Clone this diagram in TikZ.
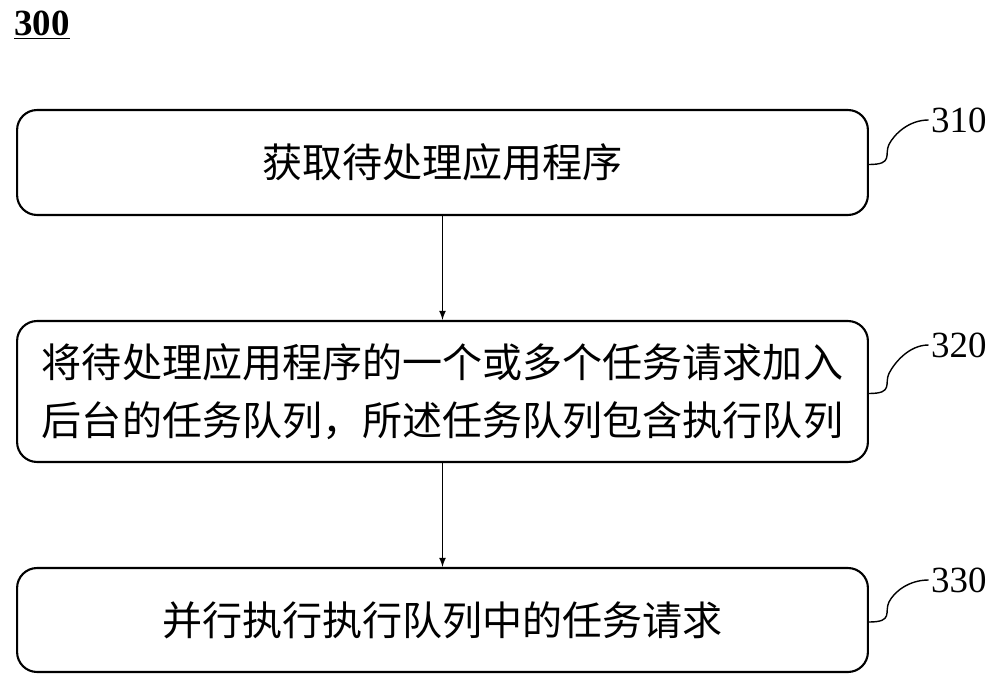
\documentclass[tikz,border=0pt]{standalone}
\usepackage{fontspec}
\setmainfont{Liberation Serif}
\newfontfamily\cjk{Noto Sans CJK SC}
\begin{document}
\begin{tikzpicture}[x=0.02cm,y=-0.02cm,
  stepbox/.style={draw,line width=1.2pt,rounded corners=0.4cm,minimum width=17.02cm,align=center,font=\cjk\fontsize{22.8}{33}\selectfont},
  lbl/.style={font=\fontsize{21}{24}\selectfont,anchor=west},
  arr/.style={-latex,line width=0.8pt}]
\useasboundingbox (0,0) rectangle (1000,686);
\node[font=\bfseries\fontsize{21}{24}\selectfont,anchor=west] (t) at (8,25) {\underline{300}};
\node[stepbox,minimum height=2.1cm] (b1) at (442.5,162.5) {获取待处理应用程序};
\node[stepbox,minimum height=2.82cm] (b2) at (442.5,391.5) {将待处理应用程序的一个或多个任务请求加入\\后台的任务队列，所述任务队列包含执行队列};
\node[stepbox,minimum height=2.08cm] (b3) at (442.5,620) {并行执行执行队列中的任务请求};
\draw[arr] (b1) -- (b2);
\draw[arr] (b2) -- (b3);
\node[lbl] (l1) at (925,120) {310};
\node[lbl] (l2) at (925,345) {320};
\node[lbl] (l3) at (925,580) {330};
\foreach \b/\l in {b1/l1,b2/l2,b3/l3}{
  \draw[line width=0.8pt] (\b.east) ++(0,2) .. controls +(25,0) and +(-5,10) .. ++(20,-20) .. controls +(5,-10) and +(-20,0) .. ([xshift=2]\l.west);
}
\end{tikzpicture}
\end{document}
